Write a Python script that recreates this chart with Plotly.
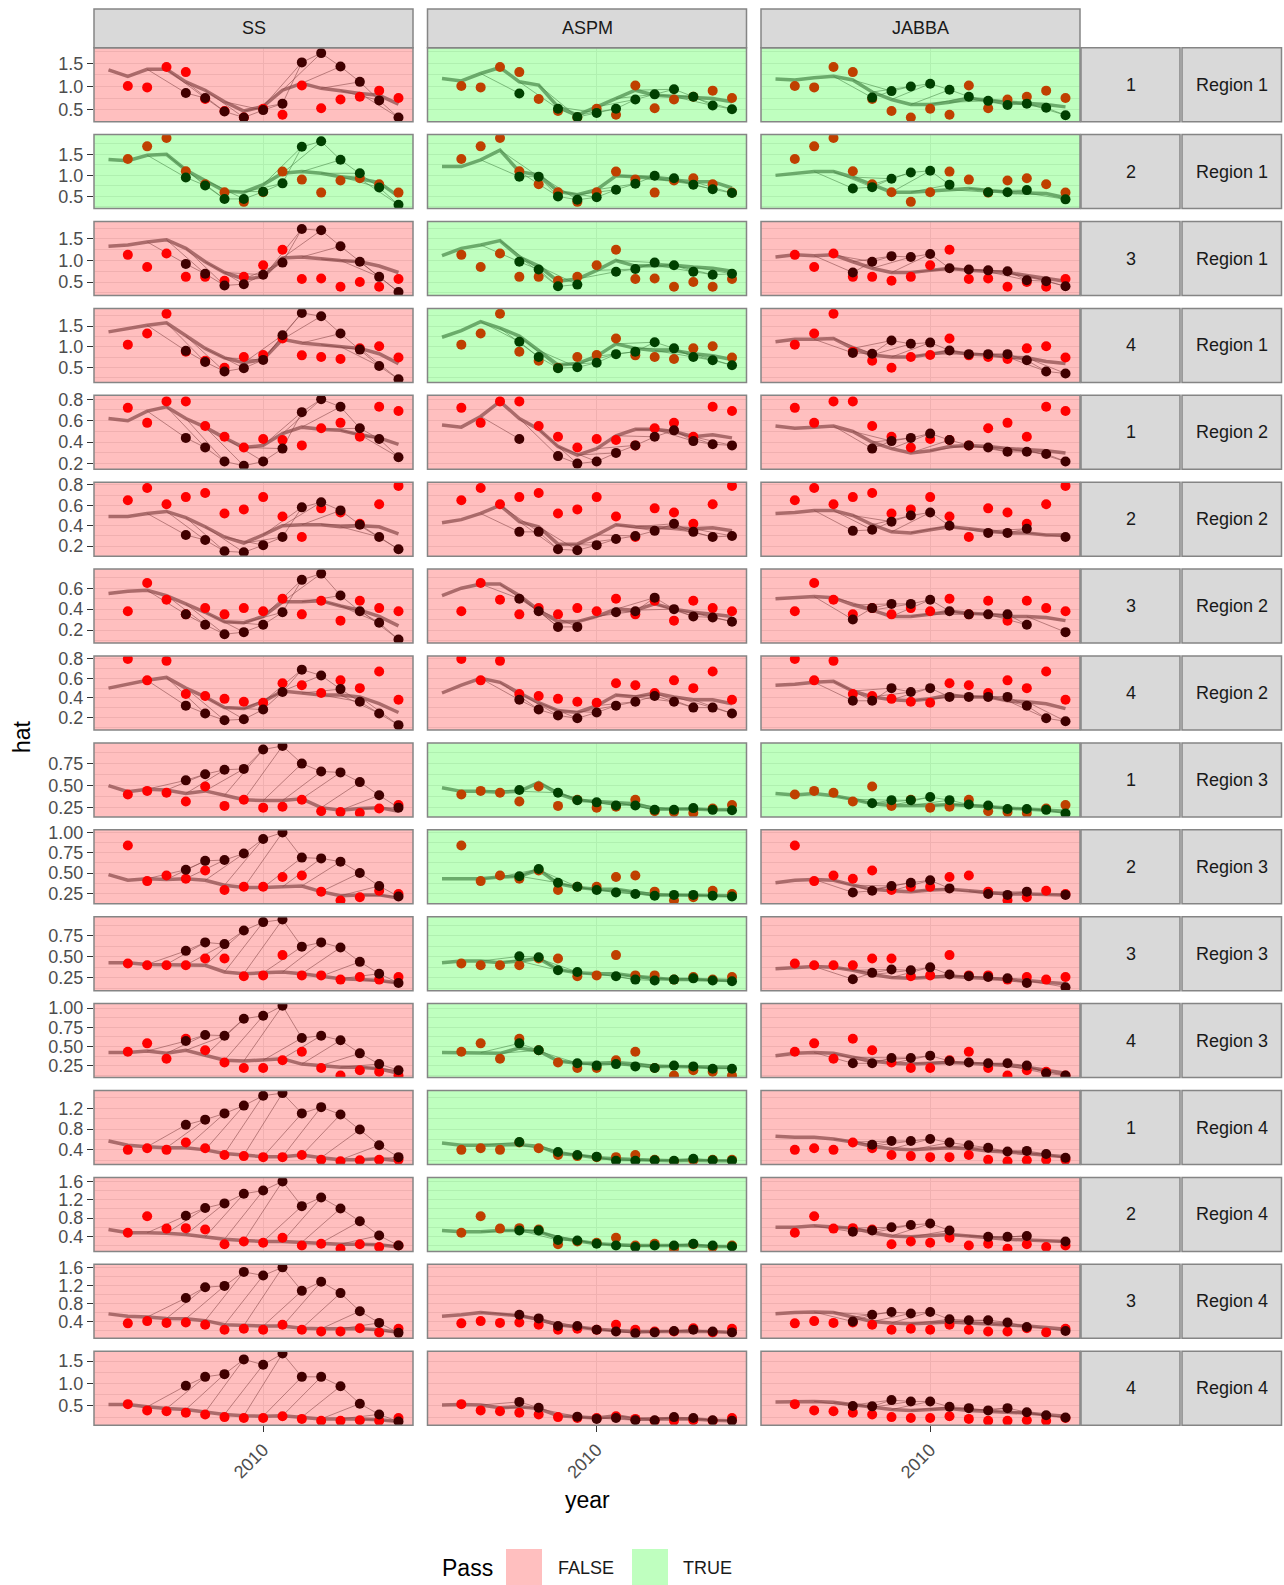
import plotly.graph_objects as go

# ---------------------------------------------------------------- data
MODELS = ["SS", "ASPM", "JABBA"]
INDEX_LABELS = ["1", "2", "3", "4"] * 4
REGION_LABELS = ["Region 1"] * 4 + ["Region 2"] * 4 + ["Region 3"] * 4 + ["Region 4"] * 4
YEARS_FIT = list(range(2002, 2018))   # fitted index series
YEARS_OBS = list(range(2003, 2018))   # observed index / hindcast points
X_TICKS = [2010]

# diagnostic outcome per row (SS, ASPM, JABBA)
PASS = [
    [False, True, True], [True, True, True], [False, True, False], [False, True, False],
    [False, False, False], [False, False, False], [False, False, False], [False, False, False],
    [False, True, True], [False, True, False], [False, True, False], [False, True, False],
    [False, True, False], [False, True, False], [False, False, False], [False, False, False],
]

# observed index (shared by the three models)
OBS = [
    [1.01, 0.98, 1.42, 1.31, 0.73, 0.47, 0.33, 0.52, 0.39, 1.02, 0.53, 0.72, 0.78, 0.91, 0.75],
    [1.39, 1.69, 1.89, 1.10, 0.79, 0.60, 0.37, 0.60, 1.09, 0.90, 0.59, 0.88, 0.93, 0.79, 0.59],
    [1.13, 0.85, 1.16, 0.62, 0.62, 0.53, 0.62, 0.89, 1.25, 0.57, 0.58, 0.39, 0.50, 0.39, 0.57],
    [1.05, 1.32, 1.80, 0.88, 0.66, 0.49, 0.75, 0.80, 1.20, 0.79, 0.75, 0.70, 0.96, 1.01, 0.74],
    [0.72, 0.58, 0.78, 0.78, 0.55, 0.45, 0.35, 0.43, 0.42, 0.37, 0.53, 0.58, 0.45, 0.73, 0.69],
    [0.65, 0.77, 0.61, 0.68, 0.72, 0.52, 0.56, 0.68, 0.49, 0.29, 0.57, 0.53, 0.42, 0.61, 0.79],
    [0.38, 0.65, 0.49, 0.35, 0.41, 0.35, 0.41, 0.38, 0.50, 0.35, 0.48, 0.29, 0.48, 0.41, 0.38],
    [0.80, 0.58, 0.78, 0.44, 0.42, 0.39, 0.36, 0.35, 0.55, 0.53, 0.45, 0.58, 0.50, 0.67, 0.38],
    [0.40, 0.44, 0.42, 0.32, 0.49, 0.27, 0.34, 0.25, 0.26, 0.34, 0.21, 0.20, 0.19, 0.24, 0.28],
    [0.84, 0.40, 0.47, 0.43, 0.53, 0.29, 0.33, 0.33, 0.45, 0.47, 0.27, 0.16, 0.20, 0.28, 0.24],
    [0.42, 0.40, 0.40, 0.40, 0.48, 0.48, 0.27, 0.28, 0.52, 0.28, 0.28, 0.23, 0.26, 0.23, 0.26],
    [0.43, 0.54, 0.34, 0.60, 0.45, 0.29, 0.22, 0.22, 0.32, 0.43, 0.22, 0.12, 0.19, 0.17, 0.12],
    [0.40, 0.43, 0.40, 0.54, 0.43, 0.30, 0.28, 0.26, 0.26, 0.30, 0.21, 0.18, 0.20, 0.21, 0.21],
    [0.48, 0.84, 0.57, 0.58, 0.55, 0.23, 0.29, 0.26, 0.37, 0.20, 0.24, 0.13, 0.23, 0.17, 0.20],
    [0.36, 0.41, 0.37, 0.38, 0.33, 0.22, 0.24, 0.22, 0.33, 0.22, 0.18, 0.18, 0.25, 0.16, 0.24],
    [0.54, 0.40, 0.38, 0.35, 0.31, 0.25, 0.23, 0.23, 0.27, 0.21, 0.17, 0.17, 0.18, 0.17, 0.23],
]

# fitted index of the full run, 2002-2017
SS_BASE = [
    [1.36, 1.22, 1.37, 1.37, 1.10, 0.92, 0.67, 0.47, 0.57, 0.92, 1.07, 0.96, 0.91, 0.85, 0.81, 0.62],
    [1.38, 1.35, 1.48, 1.50, 1.13, 0.89, 0.63, 0.60, 0.78, 1.05, 1.09, 1.05, 0.97, 0.92, 0.83, 0.50],
    [1.33, 1.36, 1.43, 1.48, 1.28, 0.97, 0.72, 0.57, 0.62, 1.06, 1.08, 1.03, 1.00, 0.97, 0.87, 0.72],
    [1.36, 1.45, 1.52, 1.58, 1.26, 0.96, 0.73, 0.61, 0.69, 1.18, 1.09, 1.05, 1.00, 0.96, 0.83, 0.59],
    [0.62, 0.60, 0.69, 0.73, 0.62, 0.54, 0.44, 0.35, 0.37, 0.48, 0.54, 0.52, 0.51, 0.47, 0.44, 0.38],
    [0.49, 0.49, 0.52, 0.54, 0.48, 0.39, 0.29, 0.23, 0.31, 0.40, 0.41, 0.41, 0.39, 0.40, 0.39, 0.32],
    [0.55, 0.57, 0.58, 0.53, 0.45, 0.37, 0.28, 0.27, 0.33, 0.47, 0.47, 0.48, 0.43, 0.39, 0.33, 0.24],
    [0.50, 0.54, 0.58, 0.61, 0.50, 0.41, 0.30, 0.29, 0.36, 0.47, 0.45, 0.43, 0.43, 0.41, 0.34, 0.25],
    [0.50, 0.43, 0.46, 0.45, 0.41, 0.44, 0.39, 0.34, 0.33, 0.33, 0.35, 0.25, 0.22, 0.24, 0.25, 0.21],
    [0.48, 0.41, 0.43, 0.42, 0.43, 0.41, 0.35, 0.32, 0.32, 0.33, 0.34, 0.27, 0.22, 0.23, 0.23, 0.19],
    [0.43, 0.43, 0.41, 0.41, 0.40, 0.40, 0.32, 0.30, 0.31, 0.32, 0.30, 0.27, 0.24, 0.23, 0.22, 0.19],
    [0.42, 0.42, 0.44, 0.41, 0.45, 0.38, 0.32, 0.31, 0.32, 0.34, 0.27, 0.25, 0.23, 0.23, 0.21, 0.15],
    [0.57, 0.49, 0.46, 0.44, 0.44, 0.40, 0.33, 0.30, 0.27, 0.27, 0.30, 0.25, 0.21, 0.21, 0.23, 0.19],
    [0.55, 0.48, 0.48, 0.47, 0.44, 0.39, 0.34, 0.31, 0.29, 0.29, 0.27, 0.26, 0.23, 0.23, 0.22, 0.17],
    [0.57, 0.52, 0.50, 0.47, 0.46, 0.42, 0.33, 0.31, 0.30, 0.30, 0.25, 0.24, 0.24, 0.24, 0.22, 0.16],
    [0.53, 0.53, 0.48, 0.44, 0.42, 0.36, 0.31, 0.28, 0.27, 0.28, 0.25, 0.21, 0.21, 0.21, 0.19, 0.15],
]
ASPM_BASE = [
    [1.17, 1.12, 1.28, 1.41, 1.10, 1.03, 0.56, 0.38, 0.56, 0.74, 0.92, 0.81, 0.78, 0.76, 0.74, 0.67],
    [1.21, 1.21, 1.37, 1.60, 1.09, 1.01, 0.62, 0.54, 0.66, 0.99, 0.97, 0.93, 0.89, 0.85, 0.85, 0.70],
    [1.11, 1.28, 1.36, 1.46, 1.08, 0.87, 0.52, 0.57, 0.77, 1.00, 0.87, 0.89, 0.89, 0.85, 0.82, 0.75],
    [1.23, 1.39, 1.61, 1.45, 1.26, 0.91, 0.56, 0.59, 0.77, 1.07, 0.96, 0.91, 0.91, 0.83, 0.78, 0.69],
    [0.56, 0.54, 0.64, 0.78, 0.62, 0.52, 0.36, 0.28, 0.34, 0.46, 0.52, 0.52, 0.50, 0.45, 0.47, 0.44],
    [0.43, 0.46, 0.52, 0.60, 0.44, 0.39, 0.22, 0.22, 0.31, 0.41, 0.39, 0.38, 0.38, 0.37, 0.38, 0.35],
    [0.53, 0.60, 0.64, 0.64, 0.53, 0.39, 0.28, 0.28, 0.33, 0.40, 0.39, 0.45, 0.40, 0.37, 0.35, 0.33],
    [0.45, 0.53, 0.60, 0.56, 0.45, 0.35, 0.27, 0.25, 0.32, 0.43, 0.41, 0.45, 0.41, 0.38, 0.38, 0.34],
    [0.475, 0.435, 0.435, 0.425, 0.435, 0.535, 0.41, 0.335, 0.32, 0.31, 0.295, 0.235, 0.235, 0.235, 0.225, 0.225],
    [0.43, 0.43, 0.43, 0.45, 0.46, 0.54, 0.37, 0.32, 0.30, 0.30, 0.27, 0.23, 0.23, 0.23, 0.23, 0.22],
    [0.43, 0.45, 0.45, 0.43, 0.45, 0.48, 0.35, 0.31, 0.30, 0.30, 0.27, 0.245, 0.23, 0.23, 0.22, 0.22],
    [0.42, 0.42, 0.42, 0.41, 0.48, 0.44, 0.31, 0.28, 0.28, 0.29, 0.27, 0.24, 0.24, 0.24, 0.23, 0.23],
    [0.53, 0.49, 0.49, 0.49, 0.50, 0.47, 0.33, 0.30, 0.25, 0.23, 0.21, 0.20, 0.19, 0.20, 0.19, 0.19],
    [0.53, 0.50, 0.50, 0.53, 0.53, 0.50, 0.37, 0.31, 0.24, 0.22, 0.20, 0.20, 0.20, 0.20, 0.18, 0.18],
    [0.52, 0.55, 0.60, 0.57, 0.53, 0.45, 0.33, 0.28, 0.23, 0.20, 0.18, 0.18, 0.18, 0.18, 0.18, 0.16],
    [0.52, 0.53, 0.52, 0.46, 0.48, 0.44, 0.28, 0.26, 0.23, 0.28, 0.21, 0.21, 0.21, 0.21, 0.18, 0.17],
]
JABBA_BASE = [
    [1.16, 1.14, 1.19, 1.22, 1.14, 0.88, 0.72, 0.61, 0.61, 0.66, 0.74, 0.71, 0.66, 0.63, 0.61, 0.56],
    [1.00, 1.05, 1.09, 1.09, 0.96, 0.78, 0.60, 0.60, 0.64, 0.66, 0.69, 0.64, 0.60, 0.58, 0.57, 0.47],
    [1.08, 1.13, 1.11, 1.13, 0.97, 0.82, 0.72, 0.72, 0.77, 0.82, 0.77, 0.74, 0.72, 0.65, 0.59, 0.52],
    [1.12, 1.18, 1.18, 1.20, 0.96, 0.80, 0.75, 0.75, 0.82, 0.89, 0.82, 0.80, 0.75, 0.73, 0.64, 0.59],
    [0.55, 0.53, 0.54, 0.55, 0.50, 0.40, 0.34, 0.30, 0.32, 0.36, 0.37, 0.36, 0.34, 0.33, 0.32, 0.30],
    [0.52, 0.53, 0.55, 0.55, 0.50, 0.41, 0.34, 0.33, 0.36, 0.39, 0.37, 0.35, 0.33, 0.33, 0.31, 0.31],
    [0.50, 0.51, 0.52, 0.51, 0.44, 0.39, 0.33, 0.33, 0.35, 0.38, 0.36, 0.35, 0.33, 0.33, 0.32, 0.29],
    [0.53, 0.54, 0.56, 0.57, 0.47, 0.41, 0.38, 0.37, 0.39, 0.43, 0.41, 0.41, 0.37, 0.36, 0.34, 0.29],
    [0.41, 0.395, 0.41, 0.385, 0.345, 0.295, 0.275, 0.275, 0.275, 0.285, 0.275, 0.26, 0.245, 0.235, 0.225, 0.21],
    [0.38, 0.41, 0.42, 0.41, 0.35, 0.30, 0.28, 0.27, 0.29, 0.30, 0.28, 0.26, 0.24, 0.24, 0.23, 0.23],
    [0.36, 0.375, 0.385, 0.375, 0.34, 0.29, 0.255, 0.245, 0.255, 0.27, 0.255, 0.245, 0.235, 0.22, 0.20, 0.18],
    [0.38, 0.41, 0.42, 0.41, 0.36, 0.31, 0.28, 0.27, 0.28, 0.29, 0.28, 0.27, 0.25, 0.23, 0.19, 0.15],
    [0.66, 0.64, 0.64, 0.61, 0.55, 0.47, 0.42, 0.40, 0.42, 0.44, 0.42, 0.38, 0.36, 0.33, 0.31, 0.27],
    [0.60, 0.60, 0.63, 0.61, 0.58, 0.48, 0.41, 0.39, 0.41, 0.44, 0.41, 0.37, 0.34, 0.32, 0.31, 0.29],
    [0.57, 0.60, 0.61, 0.60, 0.50, 0.40, 0.37, 0.35, 0.37, 0.39, 0.37, 0.35, 0.33, 0.30, 0.27, 0.23],
    [0.59, 0.60, 0.60, 0.58, 0.52, 0.47, 0.42, 0.40, 0.42, 0.44, 0.40, 0.38, 0.36, 0.34, 0.30, 0.27],
]

# hindcast predictions, 2003-2017 (None where no peel ends)
SS_HAT = [
    [None, None, None, 0.86, 0.75, 0.46, 0.33, 0.49, 0.63, 1.52, 1.72, 1.43, 1.10, 0.70, 0.33],
    [None, None, None, 0.95, 0.76, 0.44, 0.44, 0.61, 0.81, 1.68, 1.81, 1.37, 1.05, 0.71, 0.30],
    [None, None, None, 0.92, 0.69, 0.42, 0.45, 0.67, 0.95, 1.73, 1.70, 1.33, 0.97, 0.62, 0.27],
    [None, None, None, 0.90, 0.63, 0.40, 0.48, 0.68, 1.28, 1.82, 1.74, 1.32, 0.93, 0.53, 0.21],
    [None, None, None, 0.44, 0.35, 0.22, 0.18, 0.22, 0.34, 0.68, 0.80, 0.73, 0.53, 0.43, 0.26],
    [None, None, None, 0.31, 0.26, 0.15, 0.14, 0.21, 0.29, 0.58, 0.63, 0.55, 0.41, 0.29, 0.17],
    [None, None, None, 0.35, 0.25, 0.16, 0.18, 0.25, 0.37, 0.68, 0.74, 0.53, 0.38, 0.27, 0.11],
    [None, None, None, 0.32, 0.24, 0.17, 0.18, 0.28, 0.46, 0.69, 0.63, 0.49, 0.36, 0.24, 0.12],
    [None, None, None, 0.56, 0.63, 0.68, 0.69, 0.91, 0.95, 0.75, 0.66, 0.65, 0.54, 0.39, 0.25],
    [None, None, None, 0.54, 0.65, 0.66, 0.74, 0.92, 1.00, 0.69, 0.68, 0.64, 0.50, 0.34, 0.21],
    [None, None, None, 0.57, 0.67, 0.65, 0.81, 0.91, 0.94, 0.62, 0.67, 0.61, 0.44, 0.30, 0.19],
    [None, None, None, 0.57, 0.65, 0.64, 0.86, 0.90, 1.03, 0.61, 0.64, 0.58, 0.41, 0.27, 0.19],
    [None, None, None, 0.88, 0.98, 1.10, 1.25, 1.44, 1.49, 1.10, 1.22, 1.08, 0.79, 0.49, 0.26],
    [None, None, None, 0.85, 1.02, 1.12, 1.33, 1.40, 1.60, 1.06, 1.25, 1.01, 0.73, 0.42, 0.20],
    [None, None, None, 0.92, 1.16, 1.19, 1.50, 1.42, 1.60, 1.08, 1.28, 1.03, 0.63, 0.37, 0.15],
    [None, None, None, 0.95, 1.15, 1.21, 1.54, 1.42, 1.67, 1.15, 1.15, 0.94, 0.55, 0.31, 0.15],
]
ASPM_HAT = [
    [None, None, None, 0.85, None, 0.52, 0.34, 0.43, 0.52, 0.72, 0.83, 0.94, 0.78, 0.59, 0.51],
    [None, None, None, 0.97, 0.97, 0.50, 0.42, 0.48, 0.66, 0.80, 0.99, 0.93, 0.78, 0.67, 0.58],
    [None, None, None, 0.97, 0.79, 0.40, 0.44, None, 0.74, 0.80, 0.95, 0.89, 0.74, 0.67, 0.69],
    [None, None, None, 1.12, 0.75, 0.48, 0.50, 0.61, 0.82, 0.88, 1.11, 0.96, 0.75, 0.67, 0.55],
    [None, None, None, 0.43, None, 0.27, 0.20, 0.22, 0.30, 0.37, 0.45, 0.51, 0.41, 0.38, 0.37],
    [None, None, None, 0.34, 0.34, 0.17, 0.16, 0.21, 0.27, 0.30, 0.35, 0.42, 0.34, 0.29, 0.30],
    [None, None, None, 0.50, 0.38, 0.23, 0.23, None, 0.37, 0.38, 0.51, 0.40, 0.33, 0.32, 0.28],
    [None, None, None, 0.38, 0.28, 0.22, 0.19, 0.25, 0.32, 0.36, 0.42, 0.36, 0.30, 0.30, 0.24],
    [None, None, None, 0.45, None, 0.42, 0.335, 0.31, 0.275, 0.275, 0.225, 0.225, 0.245, 0.225, 0.22],
    [None, None, None, 0.46, 0.55, 0.38, 0.33, 0.29, 0.26, 0.24, 0.22, 0.23, 0.23, 0.22, 0.21],
    [None, None, None, 0.505, 0.495, 0.34, 0.32, None, 0.27, 0.23, 0.22, 0.23, 0.245, 0.22, 0.21],
    [None, None, None, 0.54, 0.45, None, 0.28, 0.25, 0.27, 0.24, 0.22, 0.25, 0.24, 0.21, 0.21],
    [None, None, None, 0.55, None, 0.36, 0.30, 0.27, 0.19, 0.19, 0.20, 0.19, 0.23, 0.20, 0.19],
    [None, None, None, 0.53, 0.53, 0.32, 0.31, 0.24, 0.20, 0.17, 0.20, 0.20, 0.24, 0.20, 0.18],
    [None, None, None, 0.55, 0.47, 0.30, 0.30, 0.22, 0.18, 0.14, 0.16, 0.19, 0.22, 0.18, 0.16],
    [None, None, None, 0.59, 0.46, None, 0.26, 0.21, 0.23, 0.18, 0.18, 0.25, 0.23, 0.18, 0.17],
]
JABBA_HAT = [
    [None, None, None, None, 0.76, 0.90, 1.00, 1.06, 0.93, 0.78, 0.69, 0.60, 0.63, 0.54, 0.38],
    [None, None, None, 0.69, 0.72, 0.92, 1.07, 1.11, 0.78, None, 0.60, 0.60, 0.65, None, 0.43],
    [None, None, None, 0.72, 0.97, 1.10, 1.08, 1.15, 0.82, 0.79, 0.77, 0.75, 0.54, 0.52, 0.40],
    [None, None, None, 0.85, 0.83, 1.15, 1.07, 1.10, 0.91, 0.82, 0.82, 0.82, 0.67, 0.40, 0.35],
    [None, None, None, None, 0.34, 0.41, 0.44, 0.48, 0.42, 0.37, 0.35, 0.31, 0.31, 0.29, 0.22],
    [None, None, None, 0.35, 0.36, 0.44, 0.50, 0.53, 0.40, None, 0.33, 0.33, 0.37, None, 0.29],
    [None, None, None, 0.30, 0.41, 0.45, 0.45, 0.49, 0.38, 0.35, 0.35, 0.35, 0.25, None, 0.18],
    [None, None, None, 0.37, 0.37, 0.50, 0.46, 0.50, 0.41, 0.41, 0.41, 0.41, 0.32, 0.19, 0.16],
    [None, None, None, None, 0.30, 0.335, 0.335, 0.37, 0.335, 0.285, 0.275, 0.235, 0.235, 0.225, 0.185],
    [None, None, None, 0.26, 0.28, 0.34, 0.38, 0.41, 0.31, None, 0.24, 0.23, 0.27, None, 0.23],
    [None, None, None, 0.235, 0.31, 0.35, 0.34, 0.375, 0.29, 0.27, 0.26, 0.245, 0.19, None, 0.14],
    [None, None, None, 0.28, 0.28, 0.35, 0.35, 0.38, 0.31, 0.29, 0.28, 0.28, 0.25, 0.15, 0.12],
    [None, None, None, None, 0.50, 0.57, 0.57, 0.61, 0.54, 0.49, 0.44, 0.37, 0.38, 0.32, 0.25],
    [None, None, None, 0.50, 0.53, 0.60, 0.65, 0.68, 0.53, None, 0.39, 0.39, 0.41, None, 0.29],
    [None, None, None, 0.40, 0.55, 0.61, 0.58, 0.61, 0.45, 0.43, 0.43, 0.38, 0.28, None, 0.19],
    [None, None, None, 0.50, 0.49, 0.63, 0.60, 0.60, 0.48, 0.45, 0.40, 0.45, 0.36, 0.29, 0.24],
]

BASE = {"SS": SS_BASE, "ASPM": ASPM_BASE, "JABBA": JABBA_BASE}
HAT = {"SS": SS_HAT, "ASPM": ASPM_HAT, "JABBA": JABBA_HAT}

# free y scale per row
Y_RANGES = [
    [0.24, 1.837], [0.21, 1.97], [0.187, 1.904], [0.134, 1.93],
    [0.147, 0.837], [0.102, 0.826], [0.075, 0.783], [0.07, 0.83],
    [0.145, 0.985], [0.12, 1.033], [0.099, 0.974], [0.094, 1.058],
    [0.119, 1.54], [0.073, 1.687], [0.029, 1.668], [0.069, 1.723],
]
Y_DTICK = [0.5, 0.5, 0.5, 0.5, 0.2, 0.2, 0.2, 0.2, 0.25, 0.25, 0.25, 0.25, 0.4, 0.4, 0.4, 0.5]
Y_FMT = [".1f"] * 8 + [".2f"] * 4 + [".1f"] * 4

# ---------------------------------------------------------------- layout geometry (pixels)
W, H = 1284, 1585
COL_X = [(94.0, 413.0), (427.5, 746.5), (761.0, 1080.0)]
ROW_TOP0, ROW_PITCH, ROW_H = 47.7, 86.9, 74.0
STRIP_TOP = 9.0
IDX_STRIP = (1081.0, 1180.0)
REG_STRIP = (1182.0, 1281.5)

FONT = "Liberation Sans, Arial, sans-serif"
GRID = "#ebebeb"
EDGE = "#858585"
STRIP_FILL = "#d9d9d9"
THIN = "rgba(90,90,90,0.55)"
THICK = "rgba(90,90,90,0.68)"
FILL = {False: "rgba(255,0,0,0.25)", True: "rgba(0,255,0,0.25)"}
KEY = {False: "#ffbfbf", True: "#bfffbf"}


def fx(px):
    return px / W


def fy(py):
    return 1 - py / H


fig = go.Figure()
axes = {}
shapes = []
annotations = []

for r in range(16):
    top = ROW_TOP0 + r * ROW_PITCH
    bot = top + ROW_H
    for c, model in enumerate(MODELS):
        idx = r * 3 + c + 1
        sfx = "" if idx == 1 else str(idx)
        x0, x1 = COL_X[c]
        bottom_row = r == 15
        left_col = c == 0

        axes["xaxis" + sfx] = dict(
            domain=[fx(x0), fx(x1)], anchor="y" + sfx, range=[2001.25, 2017.75],
            tickvals=X_TICKS, ticktext=[str(v) for v in X_TICKS],
            showticklabels=bottom_row, ticks="outside" if bottom_row else "",
            ticklen=6, tickwidth=1.3, tickcolor="#333333", tickangle=-45,
            tickfont=dict(family=FONT, size=18, color="#4d4d4d"),
            showgrid=True, gridcolor=GRID, gridwidth=1.1, automargin=False,
            zeroline=False, showline=False, fixedrange=True,
        )
        axes["yaxis" + sfx] = dict(
            domain=[fy(bot), fy(top)], anchor="x" + sfx, range=Y_RANGES[r],
            tick0=0, dtick=Y_DTICK[r], tickformat=Y_FMT[r],
            showticklabels=left_col, ticks="outside" if left_col else "",
            ticklen=6, tickwidth=1.3, tickcolor="#333333",
            tickfont=dict(family=FONT, size=18, color="#4d4d4d"),
            showgrid=True, gridcolor=GRID, gridwidth=1.1, automargin=False,
            minor=dict(tick0=0, dtick=Y_DTICK[r] / 2, showgrid=True, gridcolor=GRID, gridwidth=0.6),
            zeroline=False, showline=False, fixedrange=True,
        )

        base = BASE[model][r]
        hat = HAT[model][r]
        obs = OBS[r]
        xa, ya = "x" + sfx, "y" + sfx

        # retrospective peels: each departs the full run two years before its hindcast point
        sx, sy = [], []
        for yr, h in zip(YEARS_OBS, hat):
            if h is None:
                continue
            k = YEARS_FIT.index(yr - 2)
            sx += [YEARS_FIT[k], yr, None]
            sy += [base[k], h, None]
        fig.add_trace(go.Scatter(x=sx, y=sy, mode="lines", line=dict(color=THIN, width=1),
                                 xaxis=xa, yaxis=ya, showlegend=False, hoverinfo="skip"))
        fig.add_trace(go.Scatter(x=YEARS_OBS, y=hat, mode="lines", connectgaps=False,
                                 line=dict(color=THIN, width=1),
                                 xaxis=xa, yaxis=ya, showlegend=False, hoverinfo="skip"))
        fig.add_trace(go.Scatter(x=YEARS_FIT, y=base, mode="lines",
                                 line=dict(color=THICK, width=3.5),
                                 xaxis=xa, yaxis=ya, showlegend=False, hoverinfo="skip"))
        fig.add_trace(go.Scatter(x=YEARS_OBS, y=obs, mode="markers",
                                 marker=dict(color="#ff0000", size=10, line=dict(width=0)),
                                 xaxis=xa, yaxis=ya, showlegend=False, hoverinfo="skip"))
        fig.add_trace(go.Scatter(x=YEARS_OBS, y=hat, mode="markers",
                                 marker=dict(color="#000000", size=10, line=dict(width=0)),
                                 xaxis=xa, yaxis=ya, showlegend=False, hoverinfo="skip"))

        # pass / fail wash over the whole panel, then the panel border
        shapes.append(dict(type="rect", xref=xa + " domain", yref=ya + " domain",
                           x0=0, x1=1, y0=0, y1=1, layer="above",
                           fillcolor=FILL[PASS[r][c]], line=dict(width=0)))
        shapes.append(dict(type="rect", xref="paper", yref="paper",
                           x0=fx(x0), x1=fx(x1), y0=fy(bot), y1=fy(top), layer="above",
                           fillcolor="rgba(0,0,0,0)", line=dict(color=EDGE, width=1.5)))

    # row strips: index number and region
    for (sx0, sx1), label in ((IDX_STRIP, INDEX_LABELS[r]), (REG_STRIP, REGION_LABELS[r])):
        shapes.append(dict(type="rect", xref="paper", yref="paper",
                           x0=fx(sx0), x1=fx(sx1), y0=fy(bot), y1=fy(top), layer="above",
                           fillcolor=STRIP_FILL, line=dict(color=EDGE, width=1.5)))
        annotations.append(dict(x=fx((sx0 + sx1) / 2), y=fy((top + bot) / 2), xref="paper", yref="paper",
                                text=label, showarrow=False, xanchor="center", yanchor="middle",
                                font=dict(family=FONT, size=18, color="#1a1a1a")))

# column strips
for c, model in enumerate(MODELS):
    x0, x1 = COL_X[c]
    shapes.append(dict(type="rect", xref="paper", yref="paper",
                       x0=fx(x0), x1=fx(x1), y0=fy(ROW_TOP0), y1=fy(STRIP_TOP), layer="above",
                       fillcolor=STRIP_FILL, line=dict(color=EDGE, width=1.5)))
    annotations.append(dict(x=fx((x0 + x1) / 2), y=fy((STRIP_TOP + ROW_TOP0) / 2), xref="paper", yref="paper",
                            text=model, showarrow=False, xanchor="center", yanchor="middle",
                            font=dict(family=FONT, size=18, color="#1a1a1a")))

# axis titles
annotations.append(dict(x=fx((COL_X[0][0] + COL_X[2][1]) / 2), y=fy(1500), xref="paper", yref="paper",
                        text="year", showarrow=False, xanchor="center", yanchor="middle",
                        font=dict(family=FONT, size=23, color="#000000")))
annotations.append(dict(x=fx(22), y=fy(736), xref="paper", yref="paper", textangle=-90,
                        text="hat", showarrow=False, xanchor="center", yanchor="middle",
                        font=dict(family=FONT, size=23, color="#000000")))

# legend for the Pass wash
annotations.append(dict(x=fx(440), y=fy(1568), xref="paper", yref="paper", text="Pass",
                        showarrow=False, xanchor="left", yanchor="middle",
                        font=dict(family=FONT, size=23, color="#000000")))
for (kx0, tx), state in (((506, 556), False), ((632, 681), True)):
    shapes.append(dict(type="rect", xref="paper", yref="paper",
                       x0=fx(kx0), x1=fx(kx0 + 36), y0=fy(1585), y1=fy(1549),
                       fillcolor=KEY[state], line=dict(width=0), layer="above"))
    annotations.append(dict(x=fx(tx), y=fy(1568), xref="paper", yref="paper",
                            text=str(state).upper(), showarrow=False, xanchor="left", yanchor="middle",
                            font=dict(family=FONT, size=18, color="#1a1a1a")))

fig.update_layout(
    width=W, height=H, autosize=False,
    margin=dict(l=0, r=0, t=0, b=0, pad=0, autoexpand=False),
    paper_bgcolor="white", plot_bgcolor="white",
    showlegend=False,
    shapes=shapes, annotations=annotations,
    **axes,
)

fig.write_html("out.html")
